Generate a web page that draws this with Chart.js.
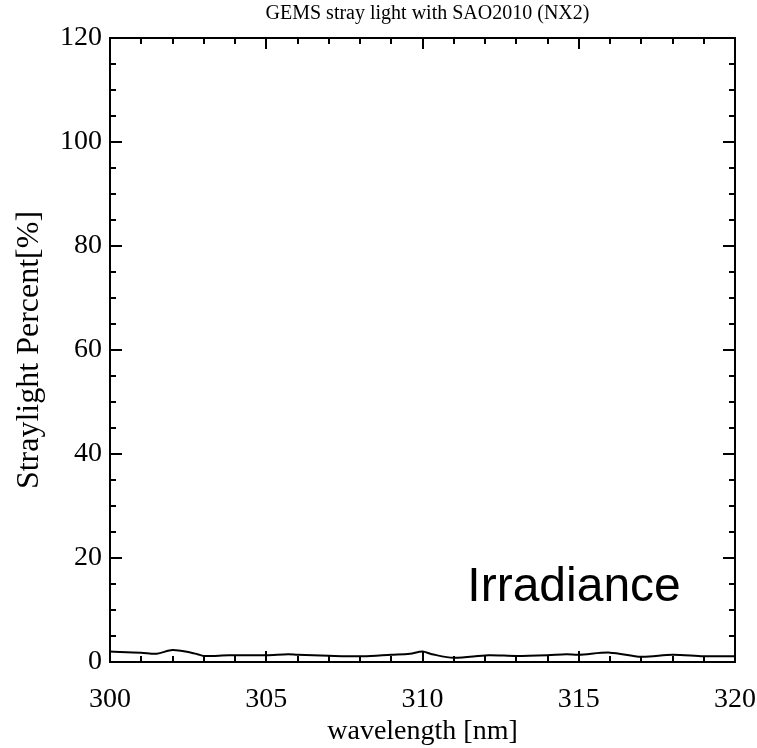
<!DOCTYPE html>
<html>
<head>
<meta charset="utf-8">
<title>GEMS stray light with SAO2010 (NX2)</title>
<script src="https://cdn.jsdelivr.net/npm/chart.js@4.4.0/dist/chart.umd.min.js"></script>
<style>
  html, body { margin: 0; padding: 0; background: #fff; }
  #myChart { display: block; }
</style>
</head>
<body>
<canvas id="myChart" width="757" height="748"></canvas>
<script>
// Datos
let longitudes = [300.0, 301.0, 301.5, 302.0, 302.6, 302.8, 303.0, 303.8, 305.0, 305.7, 306.0, 307.0, 308.1, 309.0, 309.6,
    310.0, 310.3, 311.0, 312.1, 313.0, 314.0, 314.6, 315.0, 316.0, 317.0, 318.0, 319.0, 320.0];
let porcentajes = [2.0, 1.8, 1.6, 2.3, 1.8, 1.5, 1.15, 1.3, 1.3, 1.5, 1.4, 1.2, 1.1, 1.4, 1.6,
    2.0, 1.5, 0.8, 1.3, 1.15, 1.3, 1.5, 1.4, 1.8, 1.0, 1.4, 1.1, 1.1];

let ticksX = [300, 305, 310, 315, 320];
let ticksY = [0, 20, 40, 60, 80, 100, 120];

let titulo = 'GEMS stray light with SAO2010 (NX2)';
let tituloX = 'wavelength [nm]';
let tituloY = 'Straylight Percent[%]';
let etiqueta = 'Irradiance';
let etiquetaPos = { x: 314.85, y: 14.2 };

const serif = '"Liberation Serif", "Times New Roman", serif';

// Dibuja el marco, los ticks hacia adentro (en los 4 lados), el titulo y la etiqueta
const marcoPlugin = {
    id: 'marco',
    afterDraw(chart) {
        const { ctx, chartArea: a, scales: { x, y } } = chart;
        ctx.save();
        ctx.strokeStyle = '#000';
        ctx.lineWidth = 2;
        ctx.strokeRect(a.left, a.top, a.right - a.left, a.bottom - a.top);

        ctx.beginPath();
        for (let v = x.min; v <= x.max; v += 1) {
            const px = Math.round(x.getPixelForValue(v));
            const largo = v % 5 === 0 ? 11 : 6;
            ctx.moveTo(px, a.bottom); ctx.lineTo(px, a.bottom - largo);
            ctx.moveTo(px, a.top); ctx.lineTo(px, a.top + largo);
        }
        for (let v = y.min; v <= y.max; v += 5) {
            const py = Math.round(y.getPixelForValue(v));
            const largo = v % 20 === 0 ? 12 : 6;
            ctx.moveTo(a.left, py); ctx.lineTo(a.left + largo, py);
            ctx.moveTo(a.right, py); ctx.lineTo(a.right - largo, py);
        }
        ctx.stroke();

        ctx.fillStyle = '#000';
        ctx.textAlign = 'center';
        ctx.textBaseline = 'middle';
        ctx.font = '20px ' + serif;
        ctx.fillText(titulo, (a.left + a.right) / 2 + 5, 14);

        ctx.font = '48px "Liberation Sans", Arial, sans-serif';
        ctx.fillText(etiqueta, x.getPixelForValue(etiquetaPos.x), y.getPixelForValue(etiquetaPos.y));
        ctx.restore();
    }
};

const ctx = document.getElementById('myChart');
let myChart = new Chart(ctx, {
    type: 'line',
    data: {
        datasets: [{
            data: longitudes.map((l, i) => ({ x: l, y: porcentajes[i] })),
            borderColor: '#000',
            borderWidth: 2,
            pointRadius: 0,
            tension: 0.3,
            fill: false
        }]
    },
    options: {
        responsive: false,
        animation: false,
        layout: { padding: { top: 38, right: 22, left: 0, bottom: 0 } },
        plugins: {
            legend: { display: false },
            tooltip: { enabled: false }
        },
        scales: {
            x: {
                type: 'linear',
                min: 300,
                max: 320,
                afterBuildTicks: s => { s.ticks = ticksX.map(v => ({ value: v })); },
                afterFit: s => { s.height = 86; s.paddingLeft = 0; s.paddingRight = 0; },
                grid: { display: false, drawTicks: false },
                border: { display: false },
                ticks: {
                    color: '#000',
                    padding: 21,
                    maxRotation: 0,
                    font: { family: serif, size: 28 }
                },
                title: {
                    display: true,
                    text: tituloX,
                    color: '#000',
                    padding: { top: 0, bottom: 0 },
                    font: { family: serif, size: 28 }
                }
            },
            y: {
                min: 0,
                max: 120,
                afterBuildTicks: s => { s.ticks = ticksY.map(v => ({ value: v })); },
                afterFit: s => { s.width = 110; s.paddingTop = 0; s.paddingBottom = 0; },
                grid: { display: false, drawTicks: false },
                border: { display: false },
                ticks: {
                    color: '#000',
                    padding: 8,
                    font: { family: serif, size: 28 }
                },
                title: {
                    display: true,
                    text: tituloY,
                    color: '#000',
                    padding: { top: 10, bottom: 0 },
                    font: { family: serif, size: 32 }
                }
            }
        }
    },
    plugins: [marcoPlugin]
});
</script>
</body>
</html>
